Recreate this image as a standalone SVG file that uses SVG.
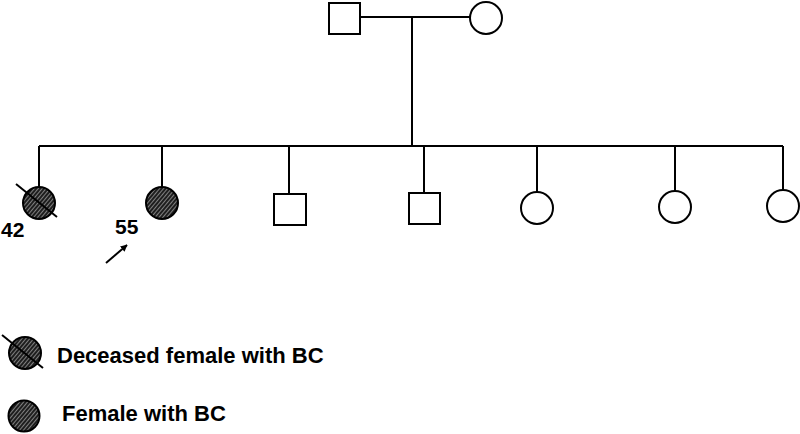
<svg xmlns="http://www.w3.org/2000/svg" width="800" height="434" viewBox="0 0 800 434">
<defs>
<pattern id="hatch" width="3" height="3" patternUnits="userSpaceOnUse" patternTransform="rotate(40)">
<rect width="3" height="3" fill="#1e1e1e"/>
<line x1="0.5" y1="0" x2="0.5" y2="3" stroke="#cfcfcf" stroke-width="0.55"/>
</pattern>
<marker id="arr" viewBox="0 0 10 10" refX="9" refY="5" markerWidth="7" markerHeight="7" orient="auto" markerUnits="userSpaceOnUse">
<path d="M0,0 L10,5 L0,10 z" fill="#000"/>
</marker>
</defs>
<style>
.sq{fill:#fff;stroke:#000;stroke-width:2}
.ci{fill:#fff;stroke:#000;stroke-width:2}
.bc{fill:url(#hatch);stroke:#000;stroke-width:2}
.ln{stroke:#000;stroke-width:2;fill:none}
.lab{font-family:"Liberation Sans",Arial,sans-serif;font-weight:bold;fill:#000}
</style>
<rect width="800" height="434" fill="#fff"/>
<g id="connectors">
<line class="ln" x1="360" y1="17" x2="470" y2="17" stroke-width="2.5"/>
<line class="ln" x1="412" y1="17" x2="412" y2="146"/>
<line class="ln" x1="39" y1="146" x2="783" y2="146" stroke-width="1.6"/>
<line class="ln" x1="39" y1="146" x2="39" y2="187"/>
<line class="ln" x1="162" y1="146" x2="162" y2="187"/>
<line class="ln" x1="289" y1="146" x2="289" y2="194"/>
<line class="ln" x1="424" y1="146" x2="424" y2="193"/>
<line class="ln" x1="537" y1="146" x2="537" y2="192"/>
<line class="ln" x1="675" y1="146" x2="675" y2="191"/>
<line class="ln" x1="783" y1="146" x2="783" y2="190"/>
</g>
<g id="father"><rect class="sq" x="329" y="3" width="31" height="31"/></g>
<g id="mother"><circle class="ci" cx="486" cy="18" r="16"/></g>
<g id="child1">
<circle class="bc" cx="39" cy="203" r="16"/>
<line class="ln" x1="16" y1="184" x2="57" y2="217"/>
<text class="lab" x="1" y="237" font-size="21">42</text>
</g>
<g id="child2">
<circle class="bc" cx="162" cy="203" r="16"/>
<text class="lab" x="115" y="234" font-size="21">55</text>
<line class="ln" x1="106" y1="263" x2="127" y2="245" stroke-width="1.2" marker-end="url(#arr)"/>
</g>
<g id="child3"><rect class="sq" x="274" y="194" width="32" height="31"/></g>
<g id="child4"><rect class="sq" x="409" y="193" width="31" height="31"/></g>
<g id="child5"><circle class="ci" cx="537" cy="208" r="16"/></g>
<g id="child6"><circle class="ci" cx="675" cy="207" r="16"/></g>
<g id="child7"><circle class="ci" cx="783" cy="206" r="16"/></g>
<g id="legend-deceased">
<circle class="bc" cx="25" cy="353" r="16"/>
<line class="ln" x1="2" y1="335" x2="43" y2="368"/>
<text class="lab" x="57" y="363" font-size="22">Deceased female with BC</text>
</g>
<g id="legend-female">
<circle class="bc" cx="24" cy="416" r="15.5"/>
<text class="lab" x="62" y="421" font-size="22">Female with BC</text>
</g>
</svg>
